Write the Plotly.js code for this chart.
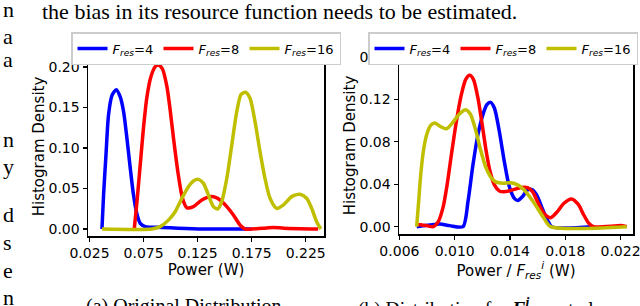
<!DOCTYPE html>
<html>
<head>
<meta charset="utf-8">
<script src="https://cdn.plot.ly/plotly-3.0.1.min.js"></script>
<style>html,body{margin:0;padding:0;background:#fff;}#chart{width:640px;height:306px;}</style>
</head>
<body>
<div id="chart"></div>
<script>
// ---- data: panel (a) Original Distribution ----
const seriesNames = ["<i>F</i><sub><i>res</i></sub>=4", "<i>F</i><sub><i>res</i></sub>=8", "<i>F</i><sub><i>res</i></sub>=16"];
const seriesColors = ["#0000ff", "#ff0000", "#bfbf00"];

const powerA_f4 = [0.0365,0.0380,0.0402,0.0426,0.0458,0.0498,0.0534,0.0565,0.0596,0.0627,0.0657,0.0688,0.0719,0.0765,0.092,0.107,0.130,0.175];
const densA_f4  = [0,0.042,0.091,0.141,0.165,0.172,0.163,0.145,0.112,0.075,0.042,0.019,0.007,0.003,0.002,0.001,0,0];

const powerA_f8 = [0.0664,0.0689,0.0719,0.0750,0.0781,0.0818,0.0858,0.0888,0.0925,0.0966,0.0996,0.1027,0.1067,0.1110,0.1150,0.1211,0.1289,0.1381,0.1458,0.1520,0.1581,0.1642,0.1689,0.185,0.195,0.205,0.2365];
const densA_f8  = [0,0.034,0.079,0.126,0.163,0.188,0.2004,0.2025,0.1975,0.1757,0.147,0.112,0.0708,0.038,0.0263,0.0276,0.0358,0.040,0.0358,0.0276,0.0173,0.005,0,0.001,0.002,0.001,0];

const powerA_f16 = [0.0365,0.0827,0.0904,0.098,0.1042,0.1104,0.1165,0.1211,0.1258,0.1304,0.135,0.1396,0.1436,0.1473,0.152,0.1566,0.1612,0.1652,0.1695,0.1735,0.1781,0.1827,0.1873,0.192,0.1981,0.2042,0.212,0.2197,0.2258,0.2305,0.2351,0.239];
const densA_f16  = [0,0,0.003,0.011,0.0214,0.0379,0.0523,0.0593,0.0613,0.0564,0.042,0.0276,0.0247,0.0337,0.0626,0.1037,0.1448,0.1663,0.1687,0.1613,0.1325,0.0955,0.0626,0.0379,0.0255,0.0296,0.040,0.0428,0.0379,0.0255,0.009,0];

// ---- data: panel (b) Distribution for F^i ----
const powerB_f4 = [0.00725,0.0082,0.00892,0.00964,0.0106,0.01096,0.01132,0.01168,0.01204,0.01233,0.01259,0.01287,0.01323,0.01359,0.01395,0.01431,0.01455,0.01491,0.01527,0.01563,0.01599,0.01635,0.01671,0.01702,0.01994];
const densB_f4  = [0,0.0016,0.0025,0.001,0,0.0236,0.0583,0.0867,0.1056,0.115,0.1172,0.1119,0.0898,0.0614,0.0378,0.0268,0.0246,0.0284,0.0347,0.0347,0.0284,0.0167,0.0063,0,0];

const powerB_f8 = [0.0073,0.00797,0.00845,0.00881,0.00917,0.00945,0.00976,0.01012,0.01048,0.01079,0.01108,0.01136,0.01168,0.01199,0.01228,0.01256,0.01287,0.01323,0.01371,0.01419,0.01479,0.01527,0.01563,0.01599,0.01646,0.01694,0.01743,0.0179,0.01845,0.01893,0.01934,0.0197,0.02005,0.0221,0.02245];
const densB_f8  = [0.002,0.001,0,0.0047,0.0189,0.0394,0.0678,0.0992,0.1245,0.1387,0.1427,0.1387,0.1214,0.0961,0.0709,0.052,0.0394,0.0337,0.0331,0.0347,0.0369,0.0369,0.0331,0.0236,0.0126,0.0085,0.0142,0.0221,0.0262,0.0212,0.011,0.0032,0,0.001,0];

const powerB_f16 = [0.00725,0.00739,0.00754,0.00773,0.00797,0.00826,0.00856,0.00897,0.0094,0.00988,0.01036,0.01079,0.01113,0.01151,0.01187,0.01223,0.01264,0.013,0.01348,0.01407,0.01455,0.01503,0.01551,0.01599,0.01646,0.01694,0.02245];
const densB_f16  = [0,0.0236,0.0489,0.0709,0.0867,0.0955,0.0977,0.0945,0.0923,0.0986,0.1065,0.1103,0.1062,0.0914,0.0725,0.0567,0.0463,0.042,0.041,0.0414,0.0394,0.0347,0.0268,0.0174,0.0079,0,0];

// ---- tick labels ----
const xTicksA = [0.025, 0.075, 0.125, 0.175, 0.225];
const yTicksA = [0.00, 0.05, 0.10, 0.15, 0.20];
const xTicksB = [0.006, 0.010, 0.014, 0.018, 0.022];
const yTicksB = [0.00, 0.04, 0.08, 0.12, 0.16];

// ---- surrounding page text ----
const topLine = "the bias in its resource function needs to be estimated.";
const sideLetters = ["n","a","a","n","y","d","s","e","n"];
const captionA = "(a) Original Distribution";
const captionB = "(b) Distribution for <b><i>F</i></b><sup><b><i>i</i></b></sup>&#160;&#160;&#160;&#160;&#160;&#160;&#160;&#160;to learn";

const panelA = [[powerA_f4, densA_f4], [powerA_f8, densA_f8], [powerA_f16, densA_f16]];
const panelB = [[powerB_f4, densB_f4], [powerB_f8, densB_f8], [powerB_f16, densB_f16]];
const entryW = [41, 41, 50];

const traces = [];
panelA.forEach((d, i) => traces.push({
  x: d[0], y: d[1], type: "scatter", mode: "lines", name: seriesNames[i],
  line: {color: seriesColors[i], width: 3.5, shape: "spline", smoothing: 0.7},
  xaxis: "x", yaxis: "y", legend: "legend", legendwidth: entryW[i]
}));
panelB.forEach((d, i) => traces.push({
  x: d[0], y: d[1], type: "scatter", mode: "lines", name: seriesNames[i],
  line: {color: seriesColors[i], width: 3.5, shape: "spline", smoothing: 0.7},
  xaxis: "x2", yaxis: "y2", legend: "legend2", legendwidth: entryW[i]
}));

const W = 640, H = 306;
const tickFont = {family: "DejaVu Sans", size: 14, color: "#000"};
const titleFont = {family: "DejaVu Sans", size: 15, color: "#000"};
const axBase = {
  showline: true, mirror: true, linecolor: "#000", linewidth: 1.5,
  showgrid: false, zeroline: false, ticks: "outside", ticklen: 4, tickwidth: 1.2,
  tickcolor: "#000", tickfont: tickFont, automargin: false, ticklabeloverflow: "allow"
};
const legBase = {
  orientation: "h", yanchor: "top", y: 1 - 32 / H,
  bgcolor: "#fff", bordercolor: "#cccccc", borderwidth: 1.5,
  font: {family: "DejaVu Sans", size: 13, color: "#000"},
  itemwidth: 30, tracegroupgap: 0
};

const serif = "Liberation Serif";
const annotations = [
  {text: topLine, xref: "paper", yref: "paper", x: 40 / W, y: 1 - 12 / H, xanchor: "left", yanchor: "middle",
   showarrow: false, font: {family: serif, size: 22, color: "#000"}},
  {text: captionA, xref: "paper", yref: "paper", x: 84 / W, y: 1 - 293 / H, xanchor: "left", yanchor: "top",
   showarrow: false, font: {family: serif, size: 20, color: "#000"}},
  {text: captionB, xref: "paper", yref: "paper", x: 356 / W, y: 1 - 293 / H, xanchor: "left", yanchor: "top",
   showarrow: false, font: {family: serif, size: 19.5, color: "#000"}}
];
const sideY = [10, 36, 60, 140, 167, 215, 242, 270, 297];
sideLetters.forEach((ch, i) => annotations.push({
  text: ch, xref: "paper", yref: "paper", x: 1 / W, y: 1 - sideY[i] / H, xanchor: "left", yanchor: "middle",
  showarrow: false, font: {family: serif, size: 22, color: "#000"}
}));

const layout = {
  width: W, height: H, margin: {l: 0, r: 0, t: 0, b: 0},
  paper_bgcolor: "#fff", plot_bgcolor: "#fff",
  xaxis: Object.assign({}, axBase, {domain: [88 / W, 324 / W], anchor: "y", range: [0.0236, 0.2419],
    tickvals: xTicksA, tickformat: ".3f", title: {text: "Power (W)", font: titleFont, standoff: 3}}),
  yaxis: Object.assign({}, axBase, {domain: [1 - 236 / H, 1 - 57 / H], anchor: "x", range: [-0.0086, 0.2123],
    tickvals: yTicksA, tickformat: ".2f", title: {text: "Histogram Density", font: titleFont, standoff: 0}}),
  xaxis2: Object.assign({}, axBase, {domain: [399 / W, 633 / W], anchor: "y2", range: [0.00597, 0.0229],
    tickvals: xTicksB, tickformat: ".3f",
    title: {text: "Power / <i>F</i><sub><i>res</i></sub><sup><i>i</i></sup> (W)", font: titleFont, standoff: 3}}),
  yaxis2: Object.assign({}, axBase, {domain: [1 - 234 / H, 1 - 57 / H], anchor: "x2", range: [-0.0069, 0.16],
    tickvals: yTicksB, tickformat: ".2f", title: {text: "Histogram Density", font: titleFont, standoff: 0}}),
  legend: Object.assign({}, legBase, {x: 206 / W, xanchor: "center"}),
  legend2: Object.assign({}, legBase, {x: 638 / W, xanchor: "right"}),
  annotations: annotations
};

Plotly.newPlot("chart", traces, layout, {displayModeBar: false, staticPlot: true});
</script>
</body>
</html>
